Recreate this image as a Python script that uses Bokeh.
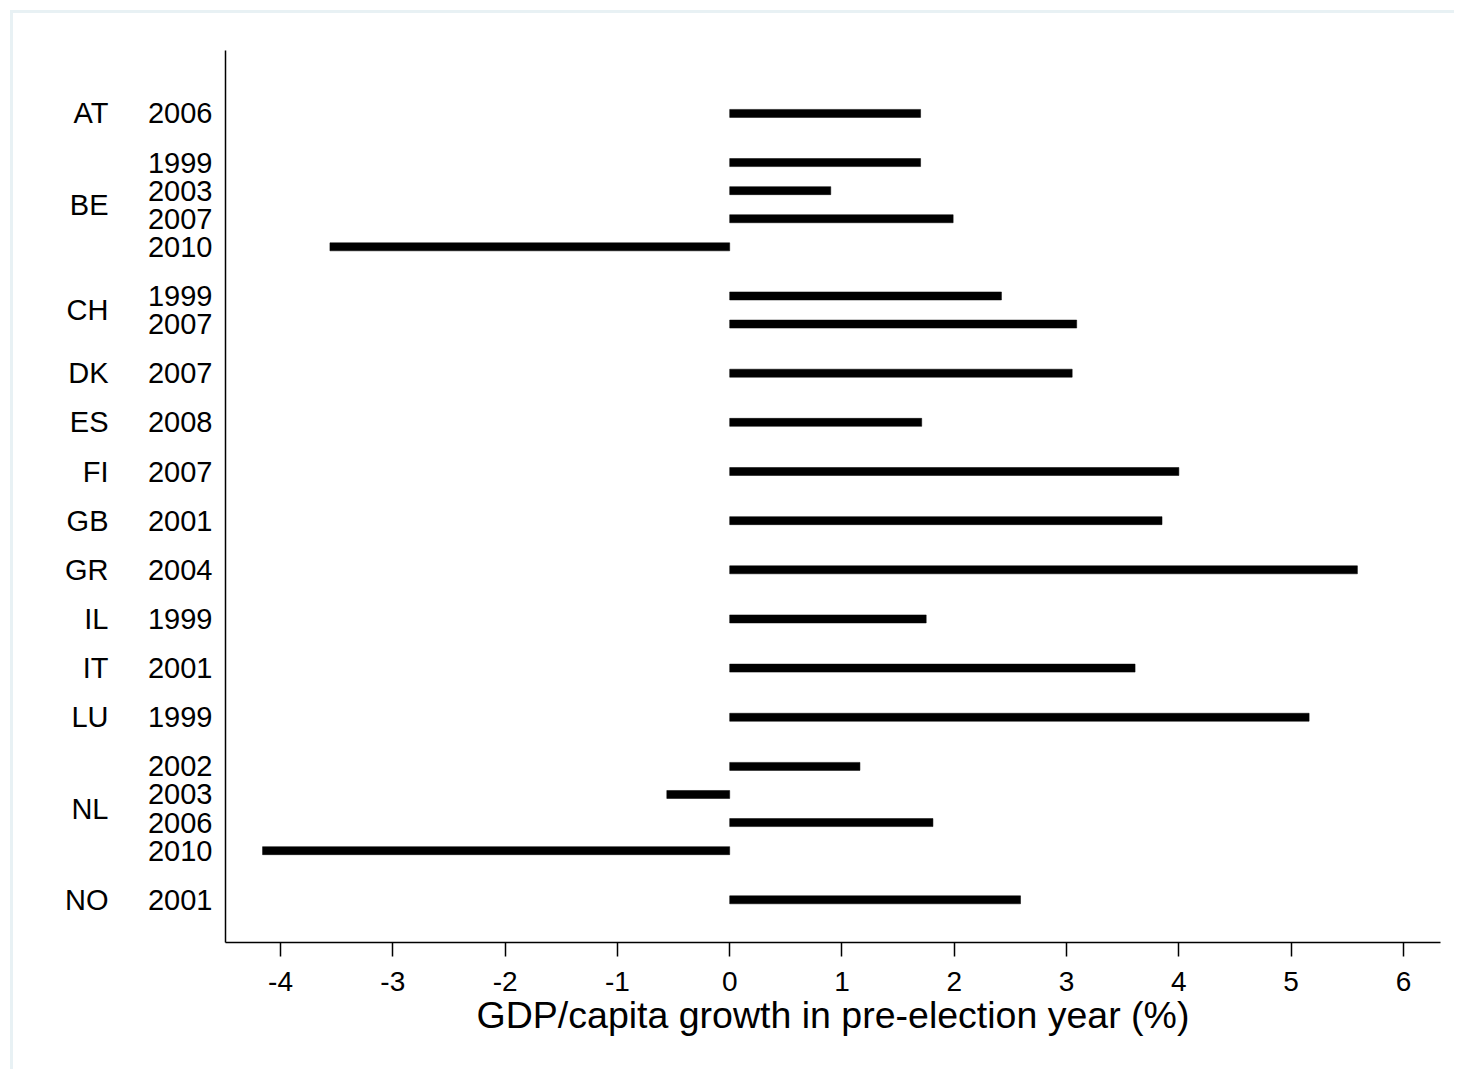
from bokeh.plotting import figure
from bokeh.models import ColumnDataSource, Range1d, LinearAxis, FixedTicker
from bokeh.embed import file_html
from bokeh.resources import INLINE

# ---- data ----
country = ["AT", "BE", "BE", "BE", "BE", "CH", "CH", "DK", "ES", "FI",
           "GB", "GR", "IL", "IT", "LU", "NL", "NL", "NL", "NL", "NO"]
year = ["2006", "1999", "2003", "2007", "2010", "1999", "2007", "2007", "2008", "2007",
        "2001", "2004", "1999", "2001", "1999", "2002", "2003", "2006", "2010", "2001"]
growth = [1.70, 1.70, 0.90, 1.99, -3.56, 2.42, 3.09, 3.05, 1.71, 4.00,
          3.85, 5.59, 1.75, 3.61, 5.16, 1.16, -0.56, 1.81, -4.16, 2.59]
x_ticks = [-4, -3, -2, -1, 0, 1, 2, 3, 4, 5, 6]
x_tick_labels = ["-4", "-3", "-2", "-1", "0", "1", "2", "3", "4", "5", "6"]
x_title = "GDP/capita growth in pre-election year (%)"

# ---- category positions (within-group step 1, between groups 1.75) ----
GAP = 1.75
pos = []
for i, c in enumerate(country):
    if i == 0:
        pos.append(0.0)
    elif c == country[i - 1]:
        pos.append(pos[-1] + 1.0)
    else:
        pos.append(pos[-1] + GAP)

groups = []
for c in country:
    if c not in groups:
        groups.append(c)
group_pos = [sum(q for q, c in zip(pos, country) if c == g) /
             sum(1 for c in country if c == g) for g in groups]

FONT = "Liberation Sans"
BORDER = "#e8f1f4"

src = ColumnDataSource(dict(y=pos, v=growth))

p = figure(width=1444, height=1059,
           x_range=Range1d(-4.49, 6.33), y_range=Range1d(29.52, -2.24),
           output_backend="svg", toolbar_location=None,
           x_axis_location=None, y_axis_location=None,
           min_border_left=212, min_border_right=17,
           min_border_top=37, min_border_bottom=130)
p.outline_line_color = None
p.background_fill_color = "white"
p.border_fill_color = "white"
p.styles = {"margin-left": "10px", "margin-top": "10px",
            "border-left": "3px solid " + BORDER,
            "border-top": "3px solid " + BORDER}

p.hbar(y="y", left=0, right="v", height=0.285, source=src,
       fill_color="black", line_color="black", line_width=0.5)

# bottom axis
xaxis = LinearAxis(ticker=FixedTicker(ticks=x_ticks), axis_label=x_title,
                   major_label_overrides=dict(zip([float(t) for t in x_ticks], x_tick_labels)))
xaxis.axis_line_color = "black"
xaxis.axis_line_width = 1.5
xaxis.major_tick_line_color = "black"
xaxis.major_tick_line_width = 1.5
xaxis.major_tick_out = 14
xaxis.major_tick_in = 0
xaxis.minor_tick_out = 0
xaxis.minor_tick_in = 0
xaxis.major_label_text_font = FONT
xaxis.major_label_text_font_size = "28px"
xaxis.major_label_text_color = "black"
xaxis.major_label_standoff = 15
xaxis.axis_label_text_font = FONT
xaxis.axis_label_text_font_size = "37.5px"
xaxis.axis_label_text_font_style = "normal"
xaxis.axis_label_text_color = "black"
xaxis.axis_label_standoff = 0
p.add_layout(xaxis, "below")

# left axis carrying the years
yaxis = LinearAxis(ticker=FixedTicker(ticks=pos),
                   major_label_overrides=dict(zip(pos, year)))
yaxis.axis_line_color = "black"
yaxis.axis_line_width = 1.5
yaxis.major_tick_out = 0
yaxis.major_tick_in = 0
yaxis.major_tick_line_color = None
yaxis.minor_tick_out = 0
yaxis.minor_tick_in = 0
yaxis.minor_tick_line_color = None
yaxis.major_label_text_font = FONT
yaxis.major_label_text_font_size = "29px"
yaxis.major_label_text_color = "black"
yaxis.major_label_standoff = 13
p.add_layout(yaxis, "left")

# outer left axis carrying the countries
caxis = LinearAxis(ticker=FixedTicker(ticks=group_pos),
                   major_label_overrides=dict(zip(group_pos, groups)))
caxis.axis_line_color = None
caxis.major_tick_line_color = None
caxis.minor_tick_line_color = None
caxis.major_tick_out = 0
caxis.major_tick_in = 0
caxis.minor_tick_out = 0
caxis.minor_tick_in = 0
caxis.major_label_text_font = FONT
caxis.major_label_text_font_size = "29px"
caxis.major_label_text_color = "black"
caxis.major_label_standoff = 36
p.add_layout(caxis, "left")

p.xgrid.visible = False
p.ygrid.visible = False

open("out.html", "w").write(file_html(p, INLINE))
